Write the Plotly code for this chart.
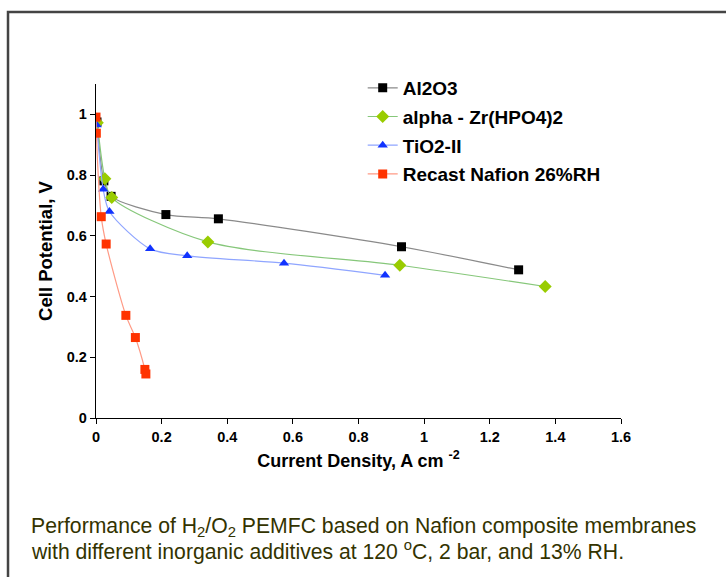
import plotly.graph_objects as go

# Data
al2o3_x = [0.003, 0.024, 0.046, 0.213, 0.373, 0.931, 1.288]
al2o3_y = [0.975, 0.781, 0.730, 0.670, 0.656, 0.564, 0.488]

zr_x = [0.004, 0.027, 0.048, 0.341, 0.926, 1.369]
zr_y = [0.972, 0.788, 0.726, 0.580, 0.503, 0.433]

tio2_x = [0.002, 0.022, 0.041, 0.165, 0.278, 0.573, 0.881]
tio2_y = [0.965, 0.753, 0.680, 0.557, 0.534, 0.510, 0.470]

naf_x = [0.0, 0.001, 0.016, 0.031, 0.091, 0.120, 0.149, 0.152]
naf_y = [0.991, 0.938, 0.663, 0.573, 0.338, 0.265, 0.160, 0.145]

names = ["Al2O3", "alpha - Zr(HPO4)2", "TiO2-II", "Recast Nafion 26%RH"]

x_ticks = [0, 0.2, 0.4, 0.6, 0.8, 1, 1.2, 1.4, 1.6]
y_ticks = [0, 0.2, 0.4, 0.6, 0.8, 1]

FONT = "Arial, Liberation Sans, sans-serif"

fig = go.Figure()

series = [
    (al2o3_x, al2o3_y, names[0], "square", "#000000", "#8a8a8a", 9),
    (zr_x, zr_y, names[1], "diamond", "#99CC00", "#86c77a", 10),
    (tio2_x, tio2_y, names[2], "triangle-up", "#1133FF", "#8fa5ff", 9),
    (naf_x, naf_y, names[3], "square", "#FF3300", "#ff9a85", 9),
]

for i, (xs, ys, nm, sym, mc, lc, ms) in enumerate(series):
    fig.add_trace(go.Scatter(
        x=xs, y=ys, name=nm, mode="lines+markers",
        legendgroup=f"g{i}",
        line=dict(color=lc, width=1.2, shape="spline", smoothing=0.8),
        marker=dict(symbol=sym, color=mc, size=ms, line=dict(width=0)),
    ))

fig.update_layout(
    width=726, height=577,
    paper_bgcolor="white", plot_bgcolor="white",
    margin=dict(l=96, r=105, t=84, b=159, autoexpand=False),
    font=dict(family=FONT, color="black"),
    showlegend=True,
    legend=dict(
        x=0.508, y=1.045, xanchor="left", yanchor="top",
        bgcolor="rgba(0,0,0,0)", borderwidth=0,
        font=dict(size=19, color="black", family=FONT, weight="bold"),
        traceorder="grouped", tracegroupgap=1, itemwidth=30,
    ),
    xaxis=dict(
        range=[0, 1.6], tickvals=x_ticks, ticktext=[str(v) for v in x_ticks],
        showgrid=False, zeroline=False, showline=True, linecolor="black", linewidth=1.3,
        ticks="outside", ticklen=5, tickcolor="black",
        tickfont=dict(size=14.5, weight="bold", family=FONT),
        title=dict(text="Current Density, A cm <sup>-2</sup>", font=dict(size=18, weight="bold", family=FONT), standoff=10),
    ),
    yaxis=dict(
        range=[0, 1.1], tickvals=y_ticks, ticktext=[str(v) for v in y_ticks],
        showgrid=False, zeroline=False, showline=True, linecolor="black", linewidth=1.3,
        ticks="outside", ticklen=5, tickcolor="black",
        tickfont=dict(size=14.5, weight="bold", family=FONT),
        title=dict(text="Cell Potential, V", font=dict(size=18.5, weight="bold", family=FONT), standoff=9),
    ),
)

# Outer frame of the figure panel
fig.add_shape(type="rect", xref="paper", yref="paper",
              x0=-0.1676, y0=-0.6, x1=1.3, y1=1.2156,
              line=dict(color="#444444", width=2.5), fillcolor="rgba(0,0,0,0)", layer="below")

caption_lines = [
    "Performance of H<sub>2</sub>/O<sub>2</sub> PEMFC based on Nafion composite membranes",
    "with different inorganic additives at 120 <sup>o</sup>C, 2 bar, and 13% RH.",
]
for k, ln in enumerate(caption_lines):
    fig.add_annotation(
        xref="paper", yref="paper", x=-0.128, y=(418 - 527 - 23.5 * k) / 334,
        xanchor="left", yanchor="middle", align="left", showarrow=False,
        text=ln,
        font=dict(size=21.2, color="#333300", family=FONT),
    )

fig.write_html("out.html", post_script="document.body.style.margin='0';",
               config={"displayModeBar": False})
